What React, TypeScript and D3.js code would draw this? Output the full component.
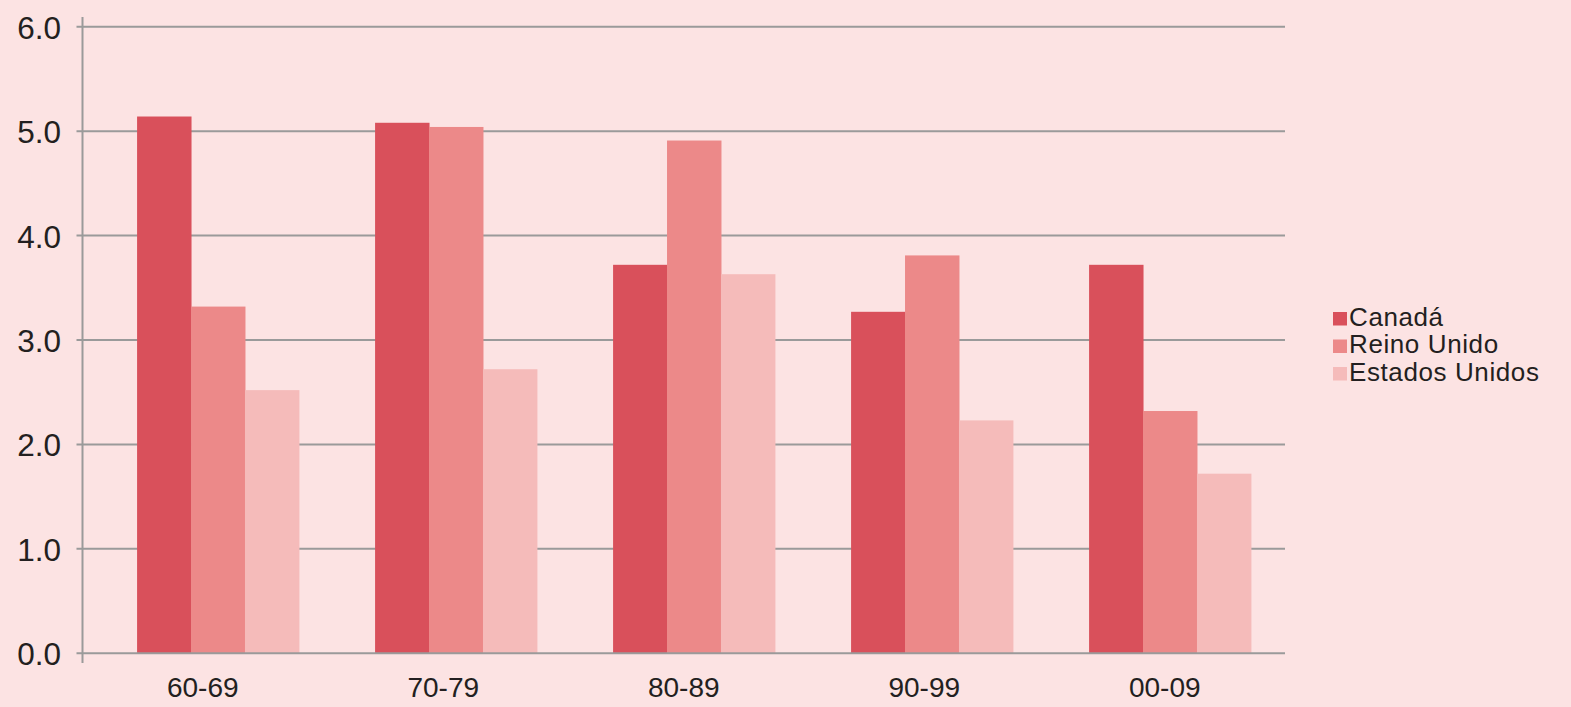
import React, { useEffect, useRef } from "react";
import * as d3 from "d3";

const decades = ["60-69", "70-79", "80-89", "90-99", "00-09"];
const seriesNames = ["Canadá", "Reino Unido", "Estados Unidos"];
const canada = [5.14, 5.08, 3.72, 3.27, 3.72];
const reinoUnido = [3.32, 5.04, 4.91, 3.81, 2.32];
const estadosUnidos = [2.52, 2.72, 3.63, 2.23, 1.72];
const yTicks = [0, 1, 2, 3, 4, 5, 6];
const colors = ["#d9505b", "#ec8989", "#f5bbba"];

const W = 1571;
const H = 707;

const App = () => {
  const ref = useRef<SVGSVGElement>(null);

  useEffect(() => {
    if (!ref.current) return;
    const svg = d3.select(ref.current);
    svg.selectAll("*").remove();

    const values = [canada, reinoUnido, estadosUnidos];
    const left = 82.5;
    const right = 1285;
    const top = 26.7;
    const bottom = 653.3;

    svg.append("rect").attr("width", W).attr("height", H).attr("fill", "#fce3e3");

    const y = d3.scaleLinear().domain([0, 6]).range([bottom, top]);
    // label positions use the full category bands, bars sit a little to the right
    const xLabel = d3.scaleBand<string>().domain(decades).range([left, right]);
    const xBar = d3.scaleBand<string>().domain(decades).range([99, 1289]).paddingInner(0.32).paddingOuter(0.16);
    const xSeries = d3.scaleBand<number>().domain([0, 1, 2]).range([0, xBar.bandwidth()]);

    // gridlines
    svg
      .append("g")
      .selectAll("line")
      .data(yTicks.filter((t) => t > 0))
      .enter()
      .append("line")
      .attr("x1", left - 6)
      .attr("x2", right)
      .attr("y1", (d) => y(d))
      .attr("y2", (d) => y(d))
      .attr("stroke", "#9a9a9a")
      .attr("stroke-width", 2);

    // bars
    values.forEach((vals, si) => {
      svg
        .append("g")
        .selectAll("rect")
        .data(vals)
        .enter()
        .append("rect")
        .attr("x", (d, i) => xBar(decades[i])! + xSeries(si)!)
        .attr("width", xSeries.bandwidth() + 0.5)
        .attr("y", (d) => y(d))
        .attr("height", (d) => bottom - y(d))
        .attr("fill", colors[si]);
    });

    // axes
    svg
      .append("line")
      .attr("x1", left)
      .attr("x2", left)
      .attr("y1", 17)
      .attr("y2", 663)
      .attr("stroke", "#9a9a9a")
      .attr("stroke-width", 2);
    svg
      .append("line")
      .attr("x1", left - 6)
      .attr("x2", right)
      .attr("y1", bottom)
      .attr("y2", bottom)
      .attr("stroke", "#9a9a9a")
      .attr("stroke-width", 2);

    // y labels
    svg
      .append("g")
      .selectAll("text")
      .data(yTicks)
      .enter()
      .append("text")
      .attr("x", 61)
      .attr("y", (d) => y(d) + 12)
      .attr("text-anchor", "end")
      .attr("font-family", "Liberation Sans, Arial, sans-serif")
      .attr("font-size", 31.5)
      .attr("fill", "#231f20")
      .text((d) => d.toFixed(1));

    // x labels
    svg
      .append("g")
      .selectAll("text")
      .data(decades)
      .enter()
      .append("text")
      .attr("x", (d) => xLabel(d)! + xLabel.bandwidth() / 2)
      .attr("y", 697)
      .attr("text-anchor", "middle")
      .attr("font-family", "Liberation Sans, Arial, sans-serif")
      .attr("font-size", 28)
      .attr("fill", "#231f20")
      .text((d) => d);

    // legend
    const legend = svg
      .append("g")
      .selectAll("g")
      .data(seriesNames)
      .enter()
      .append("g")
      .attr("transform", (d, i) => `translate(1333, ${312 + i * 27.5})`);
    legend
      .append("rect")
      .attr("width", 14)
      .attr("height", 13.5)
      .attr("fill", (d, i) => colors[i]);
    legend
      .append("text")
      .attr("x", 16)
      .attr("y", 13.5)
      .attr("font-family", "Liberation Sans, Arial, sans-serif")
      .attr("font-size", 26)
      .attr("letter-spacing", 0.6)
      .attr("fill", "#231f20")
      .text((d) => d);
  }, []);

  return (
    <svg
      ref={ref}
      width={W}
      height={H}
      style={{ position: "absolute", left: 0, top: 0, display: "block" }}
    />
  );
};

export default App;
